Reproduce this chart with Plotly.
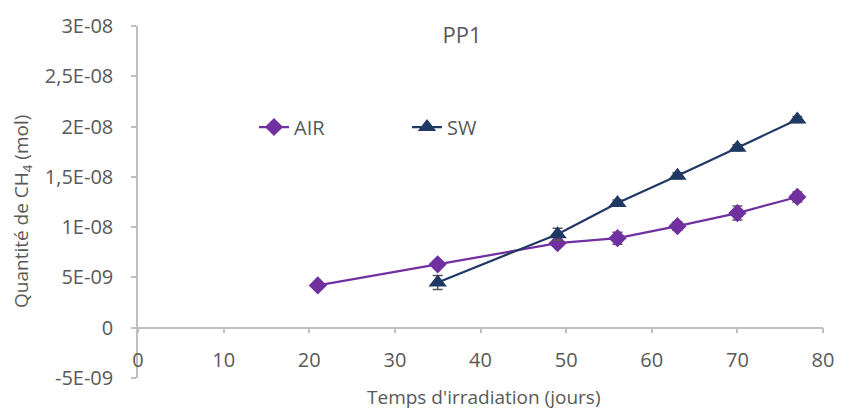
import plotly.graph_objects as go

days_air = [21, 35, 49, 56, 63, 70, 77]
air = [4.2e-9, 6.3e-9, 8.4e-9, 8.9e-9, 1.01e-8, 1.14e-8, 1.30e-8]
air_err = [2e-10, 3e-10, 3e-10, 6e-10, 4e-10, 7e-10, 5e-10]

days_sw = [35, 49, 56, 63, 70, 77]
sw = [4.5e-9, 9.3e-9, 1.24e-8, 1.51e-8, 1.79e-8, 2.07e-8]
sw_err = [7e-10, 6e-10, 3e-10, 3e-10, 3e-10, 3e-10]

y_ticks = [-5e-9, 0, 5e-9, 1e-8, 1.5e-8, 2e-8, 2.5e-8, 3e-8]
y_labels = ["-5E-09", "0", "5E-09", "1E-08", "1,5E-08", "2E-08", "2,5E-08", "3E-08"]
x_ticks = [0, 10, 20, 30, 40, 50, 60, 70, 80]

font = "'Open Sans', sans-serif"
grey = "#595959"
axis_grey = "#bfbfbf"

L, R, T, B = 138, 18, 26, 34
W, H = 841, 412
pw, ph = W - L - R, H - T - B

fig = go.Figure()
fig.add_trace(go.Scatter(
    x=days_air, y=air, name="AIR", mode="lines+markers",
    line=dict(color="#7030A0", width=2.25),
    marker=dict(symbol="diamond", size=14, color="#7030A0"),
    error_y=dict(type="data", array=air_err, color=grey, thickness=1.5, width=5),
))
fig.add_trace(go.Scatter(
    x=days_sw, y=sw, name="SW", mode="lines+markers",
    line=dict(color="#203864", width=2.25),
    marker=dict(symbol="triangle-up", size=16, color="#203864"),
    error_y=dict(type="data", array=sw_err, color=grey, thickness=1.5, width=5),
))

fig.update_layout(
    width=W, height=H,
    margin=dict(l=L, r=R, t=T, b=B),
    paper_bgcolor="white", plot_bgcolor="white",
    font=dict(family=font, size=20, color=grey),
    title=dict(text="PP1", x=462/W, xanchor="center", y=1-35/H, yanchor="middle",
               xref="container", yref="container", font=dict(size=22, color=grey)),
    showlegend=True,
    legend=dict(orientation="h", x=(254-L)/pw, xanchor="left",
                y=(H-B-127)/ph, yanchor="middle", entrywidth=108,
                font=dict(size=20, color=grey), bgcolor="rgba(0,0,0,0)"),
    xaxis=dict(range=[0, 80], tickvals=x_ticks, showgrid=False, zeroline=False,
               showline=True, linecolor=axis_grey, linewidth=1.5,
               ticks="outside", ticklen=5, tickcolor=axis_grey, tickwidth=1.5,
               anchor="free", position=5/35, automargin=False,
               ticklabelstandoff=10,
               tickfont=dict(size=20, color=grey)),
    yaxis=dict(range=[-5e-9, 3e-8], tickvals=y_ticks, ticktext=y_labels,
               showgrid=False, zeroline=False, showline=True, automargin=False,
               linecolor=axis_grey, linewidth=1.5,
               ticks="outside", ticklen=5, tickcolor=axis_grey, tickwidth=1.5,
               ticklabelstandoff=14,
               tickfont=dict(size=20, color=grey)),
    annotations=[
        dict(text="Temps d'irradiation (jours)", xref="paper", yref="paper",
             x=(483-L)/pw, y=(H-B-397)/ph, xanchor="center", yanchor="middle",
             showarrow=False, font=dict(size=19, color=grey)),
        dict(text="Quantité de CH<sub>4</sub> (mol)", xref="paper", yref="paper",
             x=(22-L)/pw, y=(H-B-212)/ph, xanchor="center", yanchor="middle",
             textangle=-90, showarrow=False, font=dict(size=19, color=grey)),
    ],
)

fig.write_html("out.html", config={"displayModeBar": False},
               post_script="document.body.style.margin='0';")
